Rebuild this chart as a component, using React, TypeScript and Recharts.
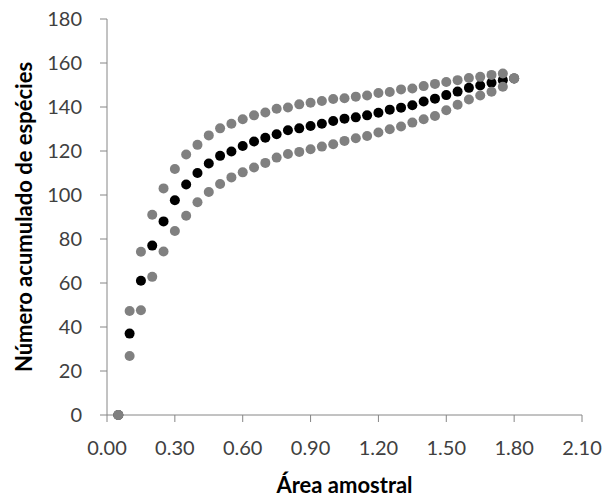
import React from "react"
import {
  ScatterChart,
  Scatter,
  XAxis,
  YAxis,
} from "recharts"

// área amostral (x) for each sampling step
const area = [
  0.05, 0.1, 0.15, 0.2, 0.25, 0.3, 0.35, 0.4, 0.45, 0.5, 0.55, 0.6,
  0.65, 0.7, 0.75, 0.8, 0.85, 0.9, 0.95, 1.0, 1.05, 1.1, 1.15, 1.2,
  1.25, 1.3, 1.35, 1.4, 1.45, 1.5, 1.55, 1.6, 1.65, 1.7, 1.75, 1.8,
]

const mean = [
  0, 37, 61, 77, 88, 97.6, 104.8, 110, 114.3, 117.8, 119.8, 122.3,
  124.3, 126, 127.6, 129.4, 130.3, 131.4, 132.4, 133.6, 134.7, 135.3, 136.2, 137.4,
  138.8, 139.7, 140.8, 142.5, 143.8, 145.4, 147, 148.7, 149.8, 151, 152.2, 153,
]

const upper = [
  0, 47.3, 74.2, 91, 103, 111.8, 118.4, 122.8, 127.1, 130.3, 132.4, 134.4,
  136.2, 137.5, 139.2, 139.8, 141.2, 141.9, 142.7, 143.6, 144, 144.7, 145.2, 146.4,
  146.8, 148, 148.4, 149.5, 150.5, 151.4, 152.2, 153.2, 153.7, 154.6, 155.2, 153,
]

const lower = [
  0, 26.8, 47.6, 62.8, 74.3, 83.6, 90.6, 96.7, 101.4, 105, 108, 110.3,
  112.5, 114.6, 117, 118.6, 119.6, 120.8, 122, 123.1, 124.6, 125.8, 126.8, 128.4,
  129.9, 131.1, 132.9, 134.4, 135.9, 138.5, 141, 143.4, 145.2, 146.9, 149.2, 153,
]

const xTicks = [0, 0.3, 0.6, 0.9, 1.2, 1.5, 1.8, 2.1]
const yTicks = [0, 20, 40, 60, 80, 100, 120, 140, 160, 180]

const toPoints = (values: number[]) => area.map((x, i) => ({ x, y: values[i] }))

const dot = (color: string) => (props: any) => (
  <circle cx={props.cx} cy={props.cy} r={5} fill={color} />
)

const FONT = "Lato, 'Open Sans', sans-serif"
const AXIS = "#868686"
const GRAY = "#808080"

export default function App() {
  const tickStyle = { fontSize: 20, fill: "#404040", fontFamily: FONT }
  const titleStyle = { fontSize: 22, fontWeight: "bold", fill: "#000", fontFamily: FONT }

  return (
    <div style={{ position: "absolute", left: 0, top: 0, background: "#fff" }}>
      <ScatterChart
        width={606}
        height={498}
        margin={{ top: 19, right: 24, bottom: 0, left: 0 }}
      >
        <XAxis
          type="number"
          dataKey="x"
          domain={[0, 2.1]}
          ticks={xTicks}
          tickFormatter={(v: number) => v.toFixed(2)}
          height={83}
          stroke={AXIS}
          tickSize={7}
          tickMargin={19}
          tick={tickStyle}
          label={{
            value: "Área amostral",
            position: "insideBottom",
            offset: 5,
            style: titleStyle,
          }}
        />
        <YAxis
          type="number"
          dataKey="y"
          domain={[0, 180]}
          ticks={yTicks}
          width={107}
          stroke={AXIS}
          tickSize={7}
          tickMargin={18}
          tick={tickStyle}
          label={{
            value: "Número acumulado de espécies",
            angle: -90,
            position: "center",
            dx: -29,
            style: titleStyle,
          }}
        />
        <Scatter data={toPoints(mean)} shape={dot("#000")} isAnimationActive={false} />
        <Scatter data={toPoints(upper)} shape={dot(GRAY)} isAnimationActive={false} />
        <Scatter data={toPoints(lower)} shape={dot(GRAY)} isAnimationActive={false} />
      </ScatterChart>
    </div>
  )
}
